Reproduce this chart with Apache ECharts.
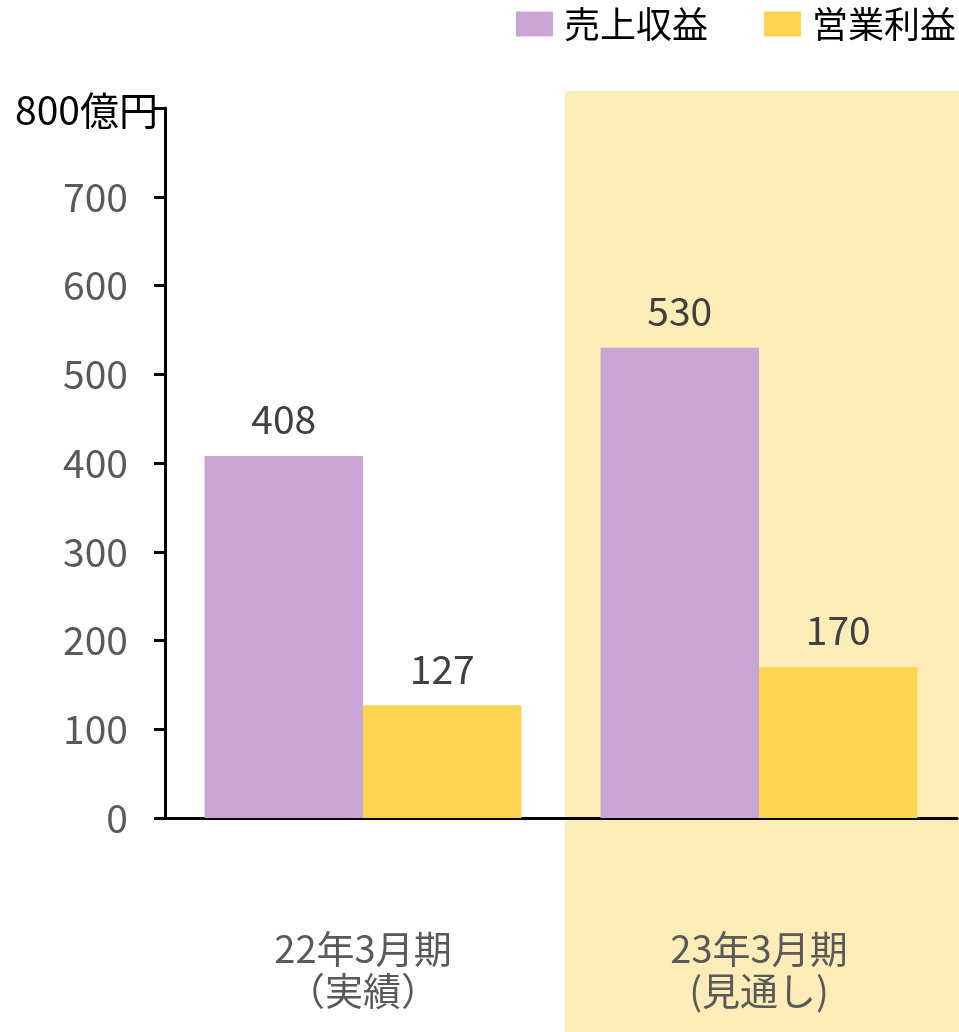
<!DOCTYPE html>
<html><head><meta charset="utf-8">
<script src="https://cdn.jsdelivr.net/npm/echarts@6/dist/echarts.min.js"></script>
<style>html,body{margin:0;padding:0;background:#fff}#c{width:959px;height:1032px}</style>
</head><body><div id="c"></div>
<script>
const categories = ['22年3月期\n（実績）', '23年3月期\n(見通し)'];
const seriesNames = ['売上収益', '営業利益'];
const revenue = [408, 530];
const operatingProfit = [127, 170];
const yTicks = [0, 100, 200, 300, 400, 500, 600, 700, 800];
const unitLabel = '800億円';

const FONT = '"Noto Sans CJK JP", "Noto Sans", sans-serif';
const chart = echarts.init(document.getElementById('c'));
chart.setOption({
  animation: false,
  textStyle: { fontFamily: FONT },
  color: ['#C9A6D5', '#FFD54F'],
  legend: {
    right: 3, top: 6, padding: 0, itemWidth: 37, itemHeight: 25, itemGap: 56,
    icon: 'rect',
    textStyle: { fontSize: 36, color: '#000', fontFamily: FONT, padding: [0, 0, 0, 6] },
    data: seriesNames
  },
  grid: { left: 165, right: 2, top: 108, bottom: 214 },
  graphic: [
    { type: 'rect', z: -10, shape: { x: 565, y: 91, width: 394, height: 941 }, style: { fill: '#FCECB8' } },
    { type: 'text', z: 10, x: 158, y: 110, style: { text: unitLabel, align: 'right', verticalAlign: 'middle', fontSize: 39, fill: '#000', fontFamily: FONT } }
  ],
  xAxis: {
    type: 'category', data: categories,
    axisLine: { lineStyle: { color: '#000', width: 3 } },
    axisTick: { show: false },
    axisLabel: { fontSize: 38, color: '#595959', lineHeight: 42, margin: 110, fontFamily: FONT }
  },
  yAxis: {
    type: 'value', min: yTicks[0], max: yTicks[yTicks.length - 1], interval: 100,
    splitLine: { show: false },
    axisLine: { show: true, lineStyle: { color: '#000', width: 3 } },
    axisTick: { show: true, length: 11, lineStyle: { color: '#000', width: 3 } },
    axisLabel: { fontSize: 39, color: '#595959', margin: 37, fontFamily: FONT,
      formatter: v => (v === 800 ? '' : String(v)) }
  },
  series: [
    { name: seriesNames[0], type: 'bar', data: revenue, barGap: '0%', barCategoryGap: '20%',
      label: { show: true, position: 'top', distance: 17, fontSize: 39, color: '#404040', fontFamily: FONT } },
    { name: seriesNames[1], type: 'bar', data: operatingProfit,
      label: { show: true, position: 'top', distance: 17, fontSize: 39, color: '#404040', fontFamily: FONT } }
  ]
});
</script></body></html>
